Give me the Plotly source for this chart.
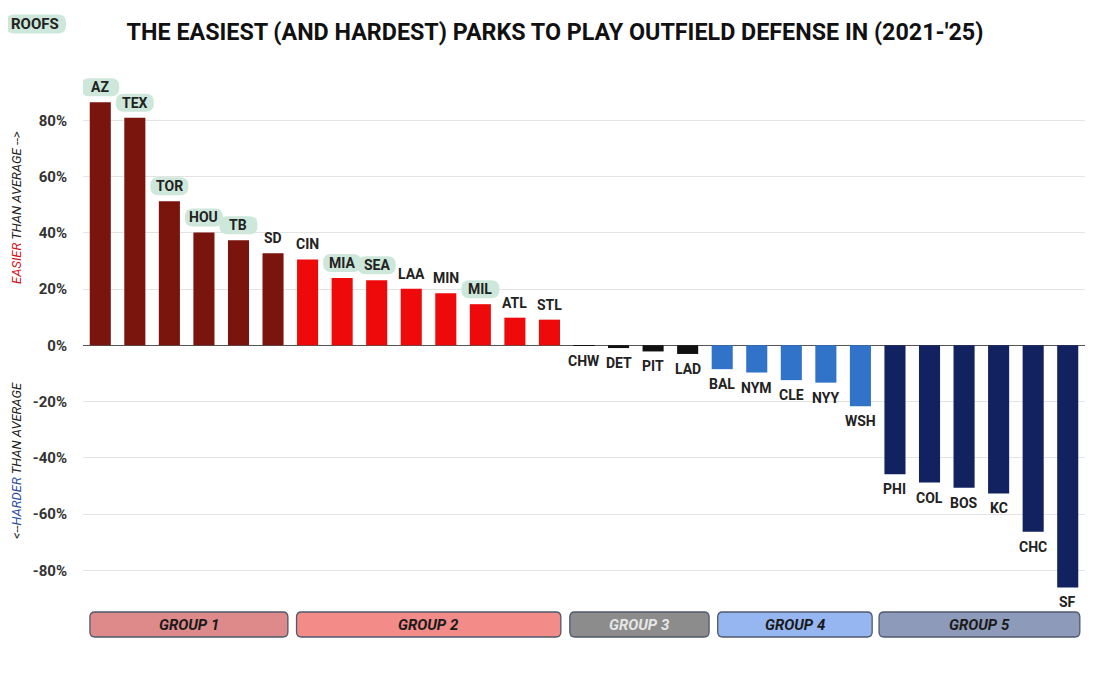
import plotly.graph_objects as go

# team order and the % easier/harder than average
TEAMS = ["AZ", "TEX", "TOR", "HOU", "TB", "SD",
         "CIN", "MIA", "SEA", "LAA", "MIN", "MIL", "ATL", "STL",
         "CHW", "DET", "PIT", "LAD",
         "BAL", "NYM", "CLE", "NYY", "WSH",
         "PHI", "COL", "BOS", "KC", "CHC", "SF"]
VALUES = [86.4, 80.9, 51.2, 40.1, 37.3, 32.7,
          30.5, 23.9, 23.1, 20.1, 18.5, 14.6, 9.8, 9.1,
          -0.2, -1.0, -2.2, -3.1,
          -8.5, -9.7, -12.4, -13.3, -21.7,
          -45.9, -48.8, -50.7, -52.7, -66.3, -86.1]
GROUP = [1] * 6 + [2] * 8 + [3] * 4 + [4] * 5 + [5] * 6
ROOF_TEAMS = ["AZ", "TEX", "TOR", "HOU", "TB", "MIA", "SEA", "MIL"]

GROUP_NAMES = ["GROUP 1", "GROUP 2", "GROUP 3", "GROUP 4", "GROUP 5"]
BAR_COLORS = {1: "#7a150e", 2: "#ee0a0a", 3: "#111111", 4: "#3173c8", 5: "#12215f"}
BOX_FILL = ["#de8a8b", "#f38b89", "#8c8c8c", "#95b6f1", "#8e9ab9"]
BOX_TEXT = ["#1a1a1a", "#1a1a1a", "#e6e6e6", "#1a1a1a", "#1a1a1a"]
# box edges in category units (left, right)
BOX_EDGES = [(-0.30, 5.43), (5.68, 13.33), (13.59, 17.62), (17.87, 22.34), (22.54, 28.35)]

YTICKS = [-80, -60, -40, -20, 0, 20, 40, 60, 80, 100]
YTICKTEXT = ["-80%", "-60%", "-40%", "-20%", "0%", "20%", "40%", "60%", "80%", ""]

FONT = "Roboto"
PILL = "#cde8da"
N = len(TEAMS)

# page body adds an 8px margin, so the figure is drawn 8px smaller
W, H = 1097, 666
ML, MR, MT, MB = 75, 20, 56, 70
PW, PH = W - ML - MR, H - MT - MB


def px_x(sx):
    # screen x -> paper x
    return (sx - 8 - ML) / PW


def px_y(sy):
    # screen y -> paper y
    return (H - MB - (sy - 8)) / PH


def pill_path(w, h, cy, r):
    x0, x1 = -w / 2, w / 2
    y0, y1 = cy - h / 2, cy + h / 2
    return (f"M{x0 + r},{y0} L{x1 - r},{y0} Q{x1},{y0} {x1},{y0 + r} "
            f"L{x1},{y1 - r} Q{x1},{y1} {x1 - r},{y1} L{x0 + r},{y1} "
            f"Q{x0},{y1} {x0},{y1 - r} L{x0},{y0 + r} Q{x0},{y0} {x0 + r},{y0} Z")


def rrect_paper(x0, x1, y0, y1, rx, ry):
    return (f"M{x0 + rx},{y0} L{x1 - rx},{y0} Q{x1},{y0} {x1},{y0 + ry} "
            f"L{x1},{y1 - ry} Q{x1},{y1} {x1 - rx},{y1} L{x0 + rx},{y1} "
            f"Q{x0},{y1} {x0},{y1 - ry} L{x0},{y0 + ry} Q{x0},{y0} {x0 + rx},{y0} Z")


fig = go.Figure()
fig.add_trace(go.Bar(x=list(range(N)), y=VALUES,
                     marker=dict(color=[BAR_COLORS[g] for g in GROUP], line=dict(width=0)),
                     width=0.61, hoverinfo="skip"))

shapes = []
annotations = []

# team labels (+ roof pills)
for i, (t, v) in enumerate(zip(TEAMS, VALUES)):
    sign = 1 if v >= 0 else -1
    if t in ROOF_TEAMS:
        shapes.append(dict(type="path", xref="x", yref="y", xsizemode="pixel", ysizemode="pixel",
                           xanchor=i, yanchor=v, path=pill_path(38, 18, 15 * sign, 8),
                           fillcolor=PILL, line=dict(width=0), layer="above"))
    annotations.append(dict(x=i, y=v, xref="x", yref="y", text=t, showarrow=False,
                            xanchor="center", yanchor="middle", yshift=15 * sign,
                            font=dict(family=FONT, size=14, color="#222222", weight=700)))

# group boxes under the chart
for k, (l, r) in enumerate(BOX_EDGES):
    px0, px1 = (l + 0.5) / N, (r + 0.5) / N
    py0, py1 = px_y(637), px_y(612)
    shapes.append(dict(type="path", xref="paper", yref="paper",
                       path=rrect_paper(px0, px1, py0, py1, 5 / PW, 5 / PH),
                       fillcolor=BOX_FILL[k], line=dict(color="#4f5a6b", width=1.3)))
    annotations.append(dict(x=(px0 + px1) / 2, y=(py0 + py1) / 2, xref="paper", yref="paper",
                            text=f"<i>{GROUP_NAMES[k]}</i>", showarrow=False,
                            xanchor="center", yanchor="middle",
                            font=dict(family=FONT, size=15, color=BOX_TEXT[k], weight=700)))

# roofs legend pill
shapes.append(dict(type="path", xref="paper", yref="paper", xsizemode="pixel", ysizemode="pixel",
                   xanchor=px_x(36), yanchor=px_y(24),
                   path=pill_path(60, 19, 0, 8), fillcolor=PILL, line=dict(width=0)))
annotations.append(dict(x=px_x(35), y=px_y(24), xref="paper", yref="paper",
                        text="ROOFS", showarrow=False, xanchor="center", yanchor="middle",
                        font=dict(family=FONT, size=15, color="#222222", weight=700)))

# axis direction labels
annotations.append(dict(x=px_x(16), y=px_y(208), xref="paper", yref="paper",
                        textangle=-90, showarrow=False, xanchor="center", yanchor="middle",
                        text="<i><span style='color:#d3141a'>EASIER</span> THAN AVERAGE --></i>",
                        font=dict(family=FONT, size=13, color="#222222")))
annotations.append(dict(x=px_x(16), y=px_y(461), xref="paper", yref="paper",
                        textangle=-90, showarrow=False, xanchor="center", yanchor="middle",
                        text="<i><--<span style='color:#2b4ea2'>HARDER</span> THAN AVERAGE</i>",
                        font=dict(family=FONT, size=13, color="#222222")))

fig.update_layout(
    width=W, height=H,
    margin=dict(l=ML, r=MR, t=MT, b=MB),
    paper_bgcolor="white", plot_bgcolor="white",
    showlegend=False,
    bargap=0.39,
    title=dict(text="THE EASIEST (AND HARDEST) PARKS TO PLAY OUTFIELD DEFENSE IN (2021-'25)",
               x=(555 - 8) / W, xref="container", xanchor="center",
               y=1 - (32 - 8) / H, yref="container", yanchor="middle",
               font=dict(family=FONT, size=23.3, color="#111111", weight=700)),
    xaxis=dict(range=[-0.5, N - 0.5], showticklabels=False, showgrid=False, zeroline=False,
               ticks=""),
    yaxis=dict(range=[-92, 100], tickvals=YTICKS, ticktext=YTICKTEXT,
               showgrid=True, gridcolor="#e3e3e3", gridwidth=1,
               zeroline=True, zerolinecolor="#555555", zerolinewidth=1.2,
               ticks="", ticklabelstandoff=15,
               tickfont=dict(family=FONT, size=15, color="#333333", weight=700)),
    shapes=shapes, annotations=annotations,
)

fig.write_html("out.html")
